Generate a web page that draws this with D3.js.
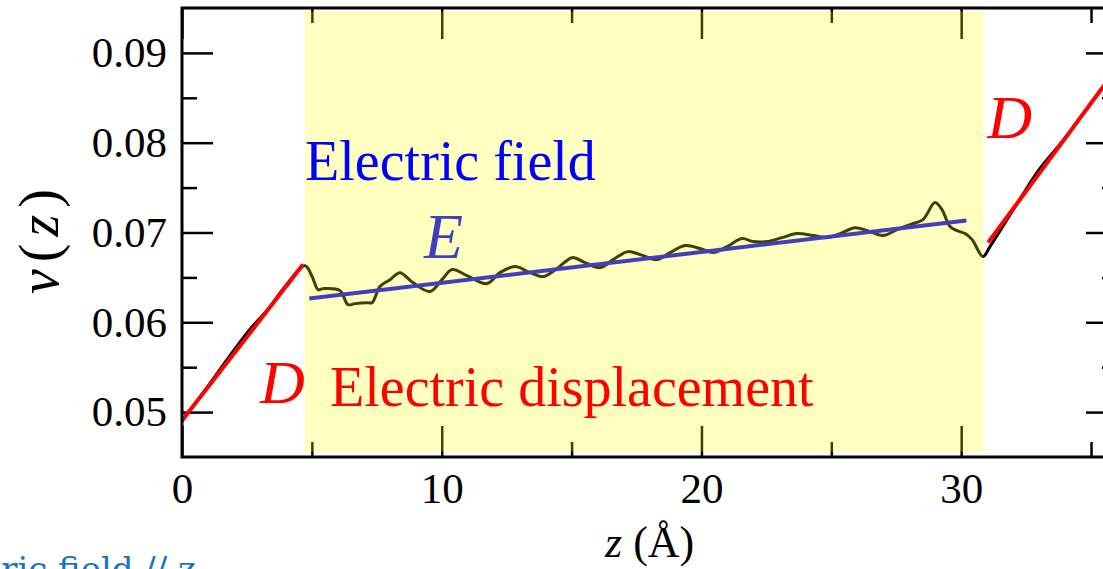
<!DOCTYPE html>
<html>
<head>
<meta charset="utf-8">
<script src="https://cdn.jsdelivr.net/npm/d3@7"></script>
<style>
  body { margin: 0; background: #fff; }
  svg { display: block; }
</style>
</head>
<body>
<div id="display"></div>
<script>
// potential profile v(z)
var curveZ = [0, 1, 2, 2.7, 3.3, 4, 4.74, 5.01, 5.24, 5.43, 6.08, 6.39, 6.66, 7.12, 7.32, 7.62, 8.01, 8.39, 8.89, 9.55,
  10.01, 10.4, 10.97, 11.74, 12.24, 12.82, 13.4, 13.9, 14.44, 15.02, 15.52, 16.1, 16.6, 17.17, 17.64, 18.29, 18.79,
  19.37, 19.95, 20.45, 20.99, 21.56, 21.99, 22.53, 23.1, 23.68, 24.3, 24.84, 25.34, 25.91, 26.38, 26.99, 27.53,
  28.03, 28.53, 28.99, 29.26, 29.57, 29.84, 30.15, 30.42, 30.84, 31.11, 32, 33, 34, 35, 36];
var curveV = [0.0490, 0.0529, 0.0569, 0.0595, 0.0614, 0.0641, 0.06631, 0.06509, 0.06364, 0.06375, 0.06353, 0.06197,
  0.06208, 0.06219, 0.06219, 0.06398, 0.06475, 0.06553, 0.06442, 0.06342, 0.06475, 0.06587, 0.0652, 0.06431,
  0.06553, 0.0662, 0.06553, 0.06509, 0.06598, 0.0672, 0.06665, 0.06609, 0.06698, 0.06787, 0.06754, 0.06698,
  0.06776, 0.06854, 0.06821, 0.06776, 0.06843, 0.06932, 0.06899, 0.06899, 0.06943, 0.06988, 0.06966, 0.06943,
  0.06988, 0.07054, 0.07021, 0.06966, 0.07032, 0.07088, 0.07144, 0.07333, 0.07255, 0.07066, 0.07021, 0.06988,
  0.06921, 0.06732, 0.06843, 0.0725, 0.0770, 0.0805, 0.0844, 0.0883];

// linear fits
var fitLeftZ = [0, 4.66], fitLeftV = [0.04905, 0.06643];       // D
var fitMidZ = [4.9, 30.2], fitMidV = [0.06264, 0.07133];       // E
var fitRightZ = [31.04, 36], fitRightV = [0.06888, 0.08834];   // D

// shaded slab
var slabZ = [4.73, 30.85], slabV = [0.0456, 0.0946];

var xMajor = [0, 10, 20, 30], xMinor = [5, 15, 25, 35];
var yMajor = [0.05, 0.06, 0.07, 0.08, 0.09], yMinor = [0.055, 0.065, 0.075, 0.085];

var W = 1103, H = 569;
var svG = d3.select("#display").append("svg")
  .attr("width", W).attr("height", H);
svG.append("rect").attr("width", W).attr("height", H).attr("fill", "#fff");

var x = d3.scaleLinear().domain([0, 36]).range([182, 1117]);
var y = d3.scaleLinear().domain([0.045, 0.095]).range([457, 8]);

var serif = "'Liberation Serif', 'Times New Roman', serif";

svG.append("clipPath").attr("id", "plotclip")
  .append("rect")
  .attr("x", x(0)).attr("y", y(0.095))
  .attr("width", x(36) - x(0)).attr("height", y(0.045) - y(0.095));

// axes: ticks point inward on all four sides
function styleAxis(g) {
  g.select(".domain").remove();
  g.selectAll(".tick line").attr("stroke", "#000").attr("stroke-width", 2.5);
  g.selectAll(".tick text").attr("fill", "#000")
    .style("font-family", serif).style("font-size", "43px");
}
var fmtY = d3.format(".2f");
svG.append("g").attr("transform", "translate(" + x(0) + ",0)")
  .call(d3.axisLeft(y).tickValues(yMajor).tickSize(-31).tickPadding(15).tickFormat(fmtY)).call(styleAxis);
svG.append("g").attr("transform", "translate(" + x(0) + ",0)")
  .call(d3.axisLeft(y).tickValues(yMinor).tickSize(-15).tickFormat("")).call(styleAxis);
svG.append("g").attr("transform", "translate(" + x(36) + ",0)")
  .call(d3.axisRight(y).tickValues(yMajor).tickSize(-31).tickFormat("")).call(styleAxis);
svG.append("g").attr("transform", "translate(" + x(36) + ",0)")
  .call(d3.axisRight(y).tickValues(yMinor).tickSize(-15).tickFormat("")).call(styleAxis);
svG.append("g").attr("transform", "translate(0," + y(0.045) + ")")
  .call(d3.axisBottom(x).tickValues(xMajor).tickSize(-31).tickPadding(15).tickFormat(d3.format("d"))).call(styleAxis);
svG.append("g").attr("transform", "translate(0," + y(0.045) + ")")
  .call(d3.axisBottom(x).tickValues(xMinor).tickSize(-15).tickFormat("")).call(styleAxis);
svG.append("g").attr("transform", "translate(0," + y(0.095) + ")")
  .call(d3.axisTop(x).tickValues(xMajor).tickSize(-31).tickFormat("")).call(styleAxis);
svG.append("g").attr("transform", "translate(0," + y(0.095) + ")")
  .call(d3.axisTop(x).tickValues(xMinor).tickSize(-15).tickFormat("")).call(styleAxis);

var plot = svG.append("g").attr("clip-path", "url(#plotclip)");

var curve = d3.zip(curveZ, curveV);
plot.append("path").datum(curve)
  .attr("fill", "none").attr("stroke", "#000").attr("stroke-width", 3)
  .attr("d", d3.line().x(d => x(d[0])).y(d => y(d[1])).curve(d3.curveCatmullRom));

var line = d3.line().x(d => x(d[0])).y(d => y(d[1]));
plot.append("path").datum(d3.zip(fitLeftZ, fitLeftV))
  .attr("fill", "none").attr("stroke", "#ff0000").attr("stroke-width", 4).attr("d", line);
plot.append("path").datum(d3.zip(fitRightZ, fitRightV))
  .attr("fill", "none").attr("stroke", "#ff0000").attr("stroke-width", 4).attr("d", line);
plot.append("path").datum(d3.zip(fitMidZ, fitMidV))
  .attr("fill", "none").attr("stroke", "#0000ff").attr("stroke-width", 4).attr("d", line);

svG.append("text").attr("x", x(9.32)).attr("y", y(0.0672))
  .attr("fill", "#0000ff").style("font-family", serif).style("font-style", "italic")
  .style("font-size", "64px").text("E");

// translucent yellow slab over everything drawn so far
svG.append("rect")
  .attr("x", x(slabZ[0])).attr("y", y(slabV[1]))
  .attr("width", x(slabZ[1]) - x(slabZ[0])).attr("height", y(slabV[0]) - y(slabV[1]))
  .attr("fill", "#ffff00").attr("fill-opacity", 0.25);

// frame
svG.append("rect")
  .attr("x", x(0)).attr("y", y(0.095))
  .attr("width", x(36) - x(0)).attr("height", y(0.045) - y(0.095))
  .attr("fill", "none").attr("stroke", "#000").attr("stroke-width", 3);

// annotations
svG.append("text").attr("x", x(4.74)).attr("y", y(0.07589))
  .attr("fill", "#0000ff").style("font-family", serif).style("font-size", "56px").text("Electric field");
svG.append("text").attr("x", x(5.70)).attr("y", y(0.05072))
  .attr("fill", "#ff0000").style("font-family", serif).style("font-size", "56px").text("Electric displacement");
svG.append("text").attr("x", x(3.0)).attr("y", y(0.05106))
  .attr("fill", "#ff0000").style("font-family", serif).style("font-style", "italic")
  .style("font-size", "62px").text("D");
svG.append("text").attr("x", x(31.0)).attr("y", y(0.08057))
  .attr("fill", "#ff0000").style("font-family", serif).style("font-style", "italic")
  .style("font-size", "62px").text("D");

// axis titles
var yl = svG.append("text").attr("transform", "translate(58,238) rotate(-90)")
  .attr("text-anchor", "middle").style("font-family", serif).style("font-size", "56px")
  .style("letter-spacing", "7px");
yl.append("tspan").style("font-style", "italic").text("v");
yl.append("tspan").text("(");
yl.append("tspan").style("font-style", "italic").text("z");
yl.append("tspan").text(")");

var xl = svG.append("text").attr("x", 605).attr("y", 557)
  .style("font-family", serif).style("font-size", "44px");
xl.append("tspan").style("font-style", "italic").text("z");
xl.append("tspan").text(" (Å)");

// caption cut off at the bottom left, as in the source image
svG.append("text").attr("x", 196).attr("y", 581).attr("text-anchor", "end")
  .attr("fill", "#1874c4").style("font-family", "'DejaVu Serif', serif").style("font-size", "34px")
  .text("Electric field // z");
</script>
</body>
</html>
